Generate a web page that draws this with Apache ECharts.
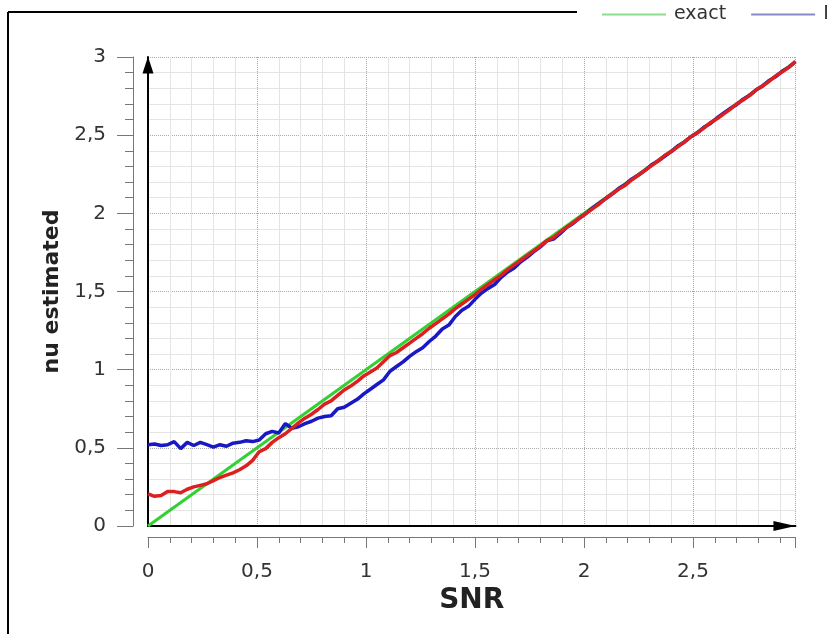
<!DOCTYPE html>
<html><head><meta charset="utf-8">
<script src="https://cdn.jsdelivr.net/npm/echarts@6/dist/echarts.min.js"></script>
<style>html,body{margin:0;padding:0;background:#fff}#c{width:827px;height:634px}</style>
</head><body><div id="c"></div>
<script>
const snr = [0,0.03,0.06,0.09,0.12,0.15,0.18,0.21,0.24,0.27,
0.3,0.33,0.36,0.39,0.42,0.45,0.48,0.51,0.54,0.57,
0.6,0.63,0.66,0.69,0.72,0.75,0.78,0.81,0.84,0.87,
0.9,0.93,0.96,0.99,1.02,1.05,1.08,1.11,1.14,1.17,
1.2,1.23,1.26,1.29,1.32,1.35,1.38,1.41,1.44,1.47,
1.5,1.53,1.56,1.59,1.62,1.65,1.68,1.71,1.74,1.77,
1.8,1.83,1.86,1.89,1.92,1.95,1.98,2.01,2.04,2.07,
2.1,2.13,2.16,2.19,2.22,2.25,2.28,2.31,2.34,2.37,
2.4,2.43,2.46,2.49,2.52,2.55,2.58,2.61,2.64,2.67,
2.7,2.73,2.76,2.79,2.82,2.85,2.88,2.91,2.94,2.97];
const blueVals = [0.52,0.525,0.515,0.52,0.54,0.495,0.535,0.515,0.535,0.52,
0.505,0.52,0.51,0.53,0.535,0.545,0.54,0.55,0.59,0.605,
0.595,0.655,0.625,0.635,0.655,0.67,0.69,0.70,0.705,0.75,
0.76,0.785,0.81,0.845,0.875,0.905,0.935,0.99,1.02,1.05,
1.085,1.115,1.14,1.18,1.215,1.26,1.285,1.34,1.38,1.405,
1.45,1.49,1.52,1.545,1.59,1.625,1.65,1.69,1.72,1.755,
1.785,1.825,1.835,1.87,1.91,1.935,1.97,2.0,2.035,2.065,
2.095,2.125,2.16,2.185,2.22,2.245,2.275,2.31,2.335,2.365,
2.395,2.43,2.455,2.49,2.515,2.55,2.575,2.61,2.64,2.67,
2.695,2.73,2.755,2.79,2.815,2.85,2.875,2.91,2.935,2.97];
const redVals = [0.205,0.19,0.195,0.22,0.22,0.213,0.235,0.25,0.26,0.27,
0.29,0.31,0.325,0.34,0.36,0.385,0.42,0.475,0.495,0.535,
0.565,0.59,0.625,0.66,0.69,0.715,0.745,0.78,0.80,0.835,
0.87,0.895,0.925,0.96,0.985,1.01,1.05,1.09,1.11,1.14,
1.17,1.2,1.23,1.265,1.295,1.325,1.355,1.39,1.42,1.45,
1.48,1.515,1.545,1.575,1.605,1.64,1.67,1.7,1.73,1.76,
1.79,1.825,1.845,1.88,1.91,1.94,1.97,2.0,2.03,2.06,
2.095,2.125,2.155,2.18,2.215,2.245,2.275,2.305,2.335,2.37,
2.395,2.425,2.455,2.49,2.515,2.545,2.58,2.605,2.635,2.665,
2.7,2.725,2.755,2.79,2.815,2.845,2.88,2.905,2.935,2.97];
const exactX = [0, 2.97];
const exactY = [0, 2.97];
const seriesNames = ['exact', 'ML', 'MAP'];

const FONT = 'DejaVu Sans';
const fmt = v => String(v).replace('.', ',');
const chart = echarts.init(document.getElementById('c'), null, {renderer: 'canvas'});

function grayAxisCommon() {
  return {
    axisLine: {show: true, onZero: false, lineStyle: {color: '#777', width: 1}},
    splitLine: {show: true, lineStyle: {color: '#a8a8a8', type: 'dotted', width: 1}},
    minorSplitLine: {show: true, lineStyle: {color: '#e4e4e4', width: 1}}
  };
}

chart.setOption({
  animation: false,
  backgroundColor: '#fff',
  graphic: [
    {type: 'line', shape: {x1: 8, y1: 12, x2: 8, y2: 640}, style: {stroke: '#000', lineWidth: 2}},
    {type: 'line', shape: {x1: 8, y1: 12, x2: 577, y2: 12}, style: {stroke: '#000', lineWidth: 2}}
  ],
  legend: {
    left: 602, top: 5, width: 1200, padding: 0,
    icon: 'rect', itemWidth: 64, itemHeight: 2, itemGap: 25,
    textStyle: {fontFamily: FONT, fontSize: 19, color: '#333', padding: [0, 0, 0, 3]},
    data: [
      {name: seriesNames[0], itemStyle: {color: '#8fdc8f'}},
      {name: seriesNames[1], itemStyle: {color: '#8a8ac6'}},
      {name: seriesNames[2], itemStyle: {color: '#e08a8a'}}
    ]
  },
  grid: {left: 148, right: 827 - 148 - 2.97 * 218, top: 57, bottom: 108, containLabel: false, outerBoundsMode: 'none'},
  xAxis: [
    Object.assign(grayAxisCommon(), {
      type: 'value', min: 0, max: 2.97, interval: 0.5, position: 'bottom', offset: 11,
      axisTick: {show: true, length: 11, lineStyle: {color: '#777'}},
      minorTick: {show: true, splitNumber: 5, length: 6, lineStyle: {color: '#777'}},
      axisLabel: {margin: 25, fontFamily: FONT, fontSize: 20, color: '#333', formatter: fmt, showMaxLabel: false},
      name: 'SNR', nameLocation: 'middle', nameGap: 45,
      nameTextStyle: {fontFamily: FONT, fontSize: 28, fontWeight: 'bold', color: '#222'}
    }),
    {
      type: 'value', min: 0, max: 2.97, position: 'bottom', offset: 0,
      axisLine: {show: true, onZero: false, symbol: ['none', 'triangle'], symbolSize: [10, 22], symbolOffset: [0, -11],
        lineStyle: {color: '#000', width: 2}},
      axisTick: {show: false}, axisLabel: {show: false}, splitLine: {show: false}
    }
  ],
  yAxis: [
    Object.assign(grayAxisCommon(), {
      type: 'value', min: 0, max: 3, interval: 0.5, position: 'left', offset: 15,
      axisTick: {show: true, length: 16, lineStyle: {color: '#777'}},
      minorTick: {show: true, splitNumber: 5, length: 8, lineStyle: {color: '#777'}},
      axisLabel: {margin: 27, fontFamily: FONT, fontSize: 20, color: '#333', formatter: fmt},
      name: 'nu estimated', nameLocation: 'middle', nameGap: 70,
      nameTextStyle: {fontFamily: FONT, fontSize: 22, fontWeight: 'bold', color: '#222'}
    }),
    {
      type: 'value', min: 0, max: 3, position: 'left', offset: 0,
      axisLine: {show: true, onZero: false, symbol: ['none', 'triangle'], symbolSize: [11, 17], symbolOffset: [0, -8],
        lineStyle: {color: '#000', width: 2}},
      axisTick: {show: false}, axisLabel: {show: false}, splitLine: {show: false}
    }
  ],
  series: [
    {name: seriesNames[0], type: 'line', showSymbol: false, symbol: 'none', z: 3,
      data: exactX.map((x, i) => [x, exactY[i]]),
      lineStyle: {color: '#33d033', width: 3}, itemStyle: {color: '#33d033'}},
    {name: seriesNames[1], type: 'line', showSymbol: false, symbol: 'none', z: 4,
      data: snr.map((x, i) => [x, blueVals[i]]),
      lineStyle: {color: '#1818c4', width: 3.5}, itemStyle: {color: '#1818c4'}},
    {name: seriesNames[2], type: 'line', showSymbol: false, symbol: 'none', z: 5,
      data: snr.map((x, i) => [x, redVals[i]]),
      lineStyle: {color: '#dc2020', width: 3.5}, itemStyle: {color: '#dc2020'}}
  ]
});
</script></body></html>
